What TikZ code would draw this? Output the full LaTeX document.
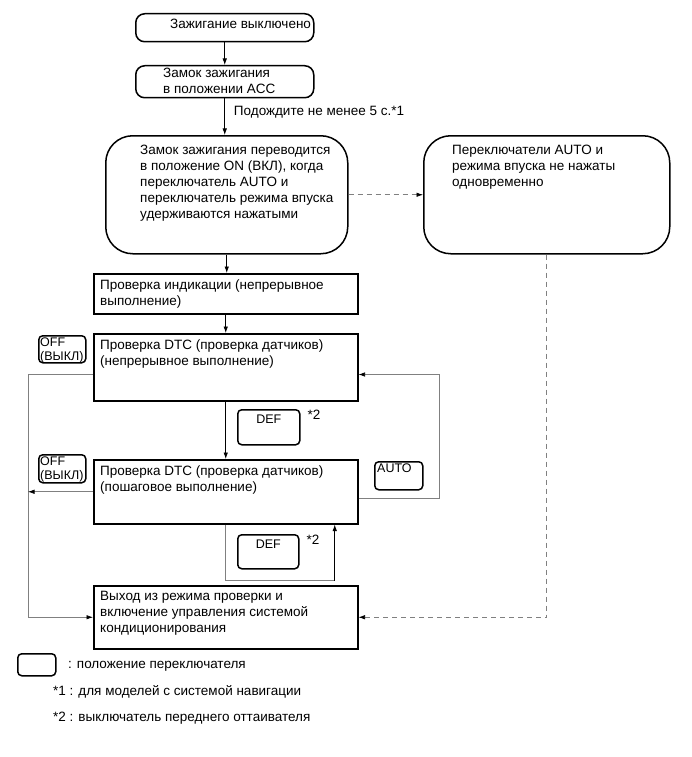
\documentclass[tikz,border=0pt]{standalone}
\usepackage{fontspec}
\setmainfont{Liberation Sans}
\usetikzlibrary{arrows.meta,calc,positioning}
\tikzset{
  >={Latex[length=6.5pt,width=4.5pt]},
  every node/.style={font=\fontsize{13.5}{16}\selectfont},
  termbox/.style={draw=black, line width=1.5pt, rounded corners=27pt, inner sep=0pt},
  stepbox/.style={draw=black, line width=1.5pt, inner sep=0pt},
  keybox/.style={draw=black, line width=1.5pt, rounded corners=4pt, inner sep=0pt},
  boxtext/.style={inner sep=0pt, align=left, anchor=north west},
  keytext/.style={inner sep=0pt, align=left, anchor=north west, font=\fontsize{12.5}{13.5}\selectfont},
  note/.style={inner sep=0pt, anchor=base west},
  flow/.style={->, line width=0.8pt, draw=black},
  thinflow/.style={-{Latex[length=6.5pt,width=4.5pt,color=black]}, line width=0.7pt, draw=black!50},
  thinline/.style={line width=0.7pt, draw=black!50},
  dashflow/.style={-{Latex[length=6.5pt,width=4.5pt,color=black]}, line width=0.7pt, draw=black!50, dash pattern=on 5pt off 4pt},
}
\begin{document}
\begin{tikzpicture}[x=1pt,y=1pt]
  \useasboundingbox (0,0) rectangle (691,-757);

  % ignition steps
  \node[termbox, rounded corners=9pt, minimum width=178pt, minimum height=28pt, anchor=north west] (off) at (135,-13) {};
  \node[boxtext] (offtxt) at ($(off.north west)+(35,-6)$) {Зажигание выключено};
  \node[termbox, rounded corners=9pt, minimum width=178pt, minimum height=32pt, anchor=north west] (acc) at (135,-65) {};
  \node[boxtext] (acctxt) at ($(acc.north west)+(28,-3)$) {Замок зажигания\\в положении ACC};
  \node[note] (wait) at ($(acc.south)+(9,-17)$) {Подождите не менее 5 с.*1};

  \node[termbox, minimum width=242pt, minimum height=118pt, anchor=north west] (on) at (105,-135) {};
  \node[boxtext] (ontxt) at ($(on.north west)+(35,-10)$)
    {Замок зажигания переводится\\в положение ON (ВКЛ), когда\\переключатель AUTO и\\переключатель режима впуска\\удерживаются нажатыми};
  \node[termbox, minimum width=246pt, minimum height=118pt, anchor=north west] (nopress) at (423,-135) {};
  \node[boxtext] (nopresstxt) at ($(nopress.north west)+(29,-10)$)
    {Переключатели AUTO и\\режима впуска не нажаты\\одновременно};

  \draw[flow] (off.south) -- (acc.north);
  \draw[flow] (acc.south) -- (acc.south |- on.north);
  \draw[dashflow] (on.east) -- (nopress.west);

  % check modes
  \node[stepbox, minimum width=264pt, minimum height=40pt, anchor=north west] (ind) at (93,-273) {};
  \node[boxtext] (indtxt) at ($(ind.north west)+(7,-7)$) {Проверка индикации (непрерывное\\выполнение)};
  \node[stepbox, minimum width=264pt, minimum height=67pt, anchor=north west] (dtcA) at (93,-333) {};
  \node[boxtext] (dtcAtxt) at ($(dtcA.north west)+(7,-7)$) {Проверка DTC (проверка датчиков)\\(непрерывное выполнение)};
  \node[stepbox, minimum width=264pt, minimum height=64pt, anchor=north west] (dtcB) at (93,-459) {};
  \node[boxtext] (dtcBtxt) at ($(dtcB.north west)+(7,-7)$) {Проверка DTC (проверка датчиков)\\(пошаговое выполнение)};
  \node[stepbox, minimum width=264pt, minimum height=63pt, anchor=north west] (exit) at (93,-585) {};
  \node[boxtext] (exittxt) at ($(exit.north west)+(7,-6)$) {Выход из режима проверки и\\включение управления системой\\кондиционирования};

  % switch keys
  \node[keybox, minimum width=47pt, minimum height=27pt, anchor=north west] (offA) at (38,-335) {};
  \node[keytext] (offAtxt) at ($(offA.north west)+(2,-3)$) {OFF\\(ВЫКЛ)};
  \node[keybox, minimum width=47pt, minimum height=28pt, anchor=north west] (offB) at (38,-454) {};
  \node[keytext] (offBtxt) at ($(offB.north west)+(2,-3)$) {OFF\\(ВЫКЛ)};
  \node[keybox, minimum width=48pt, minimum height=28pt, anchor=north west] (auto) at (374,-461) {};
  \node[keytext] (autotxt) at ($(auto.north west)+(3,-3)$) {AUTO};
  \node[keybox, minimum width=62pt, minimum height=35pt, anchor=north west] (defA) at (237,-409) {};
  \node[keytext, anchor=north] (defAtxt) at ($(defA.north)+(0,-6)$) {DEF};
  \node[note] (starA) at ($(defA.north east)+(7,-10)$) {*2};
  \node[keybox, minimum width=61pt, minimum height=34pt, anchor=north west] (defB) at (237,-534) {};
  \node[keytext, anchor=north] (defBtxt) at ($(defB.north)+(0,-6)$) {DEF};
  \node[note] (starB) at ($(defB.north east)+(7,-10)$) {*2};

  \draw[flow] (on.south) -- (on.south |- ind.north);
  \draw[flow] (ind.south) -- (dtcA.north);
  \draw[flow] (dtcA.south) -- (dtcB.north);

  \coordinate (railL) at ($(exit.west)+(-65,0)$);
  \draw[thinflow] ($(dtcA.south west)+(0,27)$) -| (railL) -- (exit.west);
  \draw[thinflow] (dtcB.west) -- (dtcB.west -| railL);
  \draw[thinflow] ($(dtcB.south east)+(0,26)$) -| ($(dtcA.south east)+(81,27)$) -- ($(dtcA.south east)+(0,27)$);
  \coordinate (loopB) at ($(dtcB.south)+(109,-56)$);
  \draw[thinline] (dtcB.south) |- (loopB);
  \draw[flow] (loopB) -- (loopB |- dtcB.south);
  \draw[dashflow] (nopress.south) |- (exit.east);

  % legend
  \node[keybox, minimum width=38pt, minimum height=22pt, anchor=north west] (legkey) at (17,-653) {};
  \node[note] (legkeytxt) at (68,-668) {: положение переключателя};
  \node[note] (legone) at (53,-695) {*1 : для моделей с системой навигации};
  \node[note] (legtwo) at (53,-721) {*2 : выключатель переднего оттаивателя};
\end{tikzpicture}
\end{document}
